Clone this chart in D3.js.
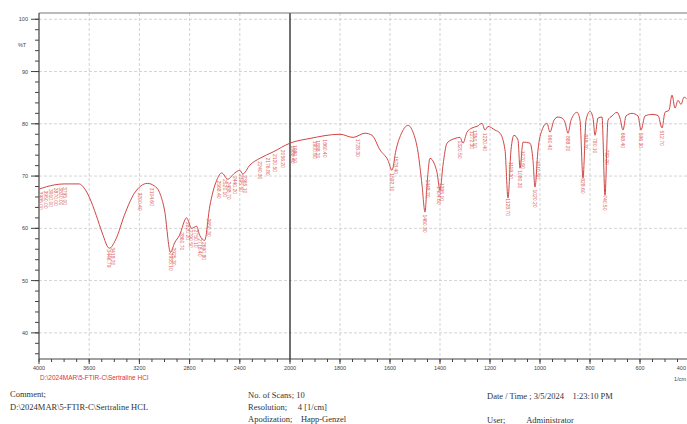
<!DOCTYPE html>
<html lang="en">
<head>
<meta charset="utf-8">
<title>FTIR Sertraline HCl</title>
<script src="https://d3js.org/d3.v7.min.js"></script>
<style>
  body { margin: 0; background: #fff; }
  svg { display: block; }
</style>
</head>
<body>
<div id="chart"></div>
<script>
// spectrum: wavenumber (1/cm) and transmittance (%T)
const wavenumbers = [4000, 3880, 3800, 3680, 3640, 3600, 3544, 3496, 3440, 3384, 3320, 3240, 3136, 3080, 3040, 3000,
  2952, 2920, 2880, 2824, 2784, 2744, 2720, 2680, 2640, 2584, 2544, 2496, 2440, 2400, 2376, 2320, 2240, 2136, 2000,
  1920, 1800, 1748, 1700, 1672, 1640, 1608, 1592, 1576, 1552, 1528, 1508, 1488, 1472, 1460, 1452, 1440, 1424, 1412,
  1400, 1388, 1372, 1340, 1320, 1308, 1292, 1272, 1252, 1232, 1220, 1208, 1180, 1160, 1140, 1128, 1116, 1104, 1088,
  1080, 1068, 1040, 1028, 1020, 1008, 992, 972, 960, 944, 928, 912, 900, 888, 876, 852, 840, 828, 816, 800, 788, 780,
  768, 752, 740, 728, 712, 692, 680, 668, 656, 632, 608, 596, 580, 552, 528, 512, 500, 484, 472, 460, 448, 436, 424, 412];
const transmittance = [67.5, 68.3, 68.5, 68.5, 67.7, 66.0, 62.5, 59.1, 56.2, 58.1, 62.5, 66.7, 68.6, 68.1, 66.9, 63.5,
  55.4, 57.2, 58.7, 62.0, 60.0, 60.4, 58.7, 57.7, 64.1, 69.2, 70.6, 69.4, 70.6, 71.1, 70.4, 72.1, 73.4, 74.6, 76.3,
  77.2, 78.0, 77.4, 78.2, 77.8, 75.0, 73.0, 71.1, 75.0, 78.4, 79.7, 78.4, 74.6, 68.3, 63.1, 68.3, 73.4, 72.5, 70.7,
  67.3, 72.1, 76.3, 77.2, 77.4, 76.3, 78.4, 79.2, 79.5, 80.1, 78.8, 79.5, 78.8, 78.2, 75.0, 65.8, 75.0, 77.8, 76.9,
  71.5, 76.5, 76.3, 73.0, 67.9, 75.0, 78.8, 80.1, 78.4, 80.7, 81.3, 81.1, 80.3, 78.2, 80.7, 82.2, 80.7, 69.6, 80.7, 82.4, 81.1, 77.8,
  81.1, 81.3, 66.3, 80.7, 81.5, 82.2, 81.1, 78.8, 81.5, 82.0, 81.5, 78.8, 81.5, 81.8, 81.6, 79.2, 82.2, 82.6, 85.5, 83.0, 84.5, 83.7, 85.1, 84.7];

// picked peaks (labels hanging under the curve)
const peakList = [3985, 3950, 3910, 3870, 3830, 3795, 3446.79, 3418.2, 3200.4, 3104.6, 2955.1, 2925.3, 2860.7, 2820.2,
  2790.5, 2750.1, 2718.4, 2690.8, 2650.3, 2568.4, 2520.1, 2488.7, 2440.2, 2395.5, 2365.1, 2240.3, 2176.8, 2120.5,
  2056.2, 1988.4, 1980.1, 1900.6, 1888.2, 1860.4, 1728.3, 1592.1, 1578.4, 1460.3, 1448.2, 1404.6, 1395.1, 1320.5,
  1272.3, 1260.1, 1220.4, 1128.7, 1118.2, 1080.3, 1070.6, 1020.2, 1010.5, 960.4, 888.2, 828.6, 818.3, 780.1, 740.5,
  732.2, 668.4, 596.3, 512.7];

const xTicks = [4000, 3600, 3200, 2800, 2400, 2000, 1800, 1600, 1400, 1200, 1000, 800, 600, 400];
const yTicks = [40, 50, 60, 70, 80, 90, 100];

const W = 687, H = 424;
const pLeft = 39, pTop = 13, pBottom = 359, pRight = 690;

const svg = d3.select("#chart").append("svg")
  .attr("width", W).attr("height", H)
  .style("font-family", "'Liberation Sans', Arial, sans-serif");

svg.append("rect").attr("width", W).attr("height", H).attr("fill", "#fff");

// scale changes at 2000 1/cm, like the instrument print-out
const x = d3.scaleLinear().domain([4000, 2000, 400]).range([pLeft, 290, pRight]);
const y = d3.scaleLinear().domain([35, 101.2]).range([pBottom, pTop]);

// grid
svg.append("g").selectAll("line").data(xTicks.filter(d => d != 4000 && d != 2000)).join("line")
  .attr("x1", d => x(d)).attr("x2", d => x(d)).attr("y1", pTop).attr("y2", pBottom)
  .attr("stroke", "#c8c8c8").attr("stroke-width", 0.8).attr("stroke-dasharray", "3,2");
svg.append("g").selectAll("line").data(yTicks).join("line")
  .attr("x1", pLeft).attr("x2", W).attr("y1", d => y(d)).attr("y2", d => y(d))
  .attr("stroke", "#c8c8c8").attr("stroke-width", 0.8).attr("stroke-dasharray", "3,2");

// dark line at 2000
svg.append("line").attr("x1", x(2000)).attr("x2", x(2000)).attr("y1", pTop).attr("y2", pBottom)
  .attr("stroke", "#333").attr("stroke-width", 1.4);

// frame top
svg.append("line").attr("x1", pLeft).attr("x2", W).attr("y1", pTop).attr("y2", pTop)
  .attr("stroke", "#777").attr("stroke-width", 1);

// y axis
const yMinor = d3.range(36, 101, 2);
const yAxis = svg.append("g").attr("transform", `translate(${pLeft},0)`);
yAxis.append("line").attr("y1", pTop).attr("y2", pBottom).attr("stroke", "#444").attr("stroke-width", 1.2);
yAxis.selectAll(".mn").data(yMinor).join("line")
  .attr("x1", -4).attr("x2", 0).attr("y1", d => y(d)).attr("y2", d => y(d))
  .attr("stroke", "#444").attr("stroke-width", 1);
yAxis.selectAll(".mj").data(yTicks).join("line")
  .attr("x1", -8).attr("x2", 0).attr("y1", d => y(d)).attr("y2", d => y(d))
  .attr("stroke", "#444").attr("stroke-width", 1);
yAxis.selectAll("text").data(yTicks).join("text")
  .attr("x", -11).attr("y", d => y(d) + 2).attr("text-anchor", "end")
  .attr("font-size", 5.5).attr("fill", "#444").text(d => d);
svg.append("text").attr("x", 22).attr("y", 47).attr("text-anchor", "middle")
  .attr("font-size", 5.5).attr("fill", "#444").text("%T");

// x axis
const xMinor = d3.range(4000, 2000, -100).concat(d3.range(2000, 399, -50));
const xAxis = svg.append("g").attr("transform", `translate(0,${pBottom})`);
xAxis.append("line").attr("x1", pLeft).attr("x2", W).attr("stroke", "#444").attr("stroke-width", 1.2);
xAxis.selectAll(".mn").data(xMinor).join("line")
  .attr("x1", d => x(d)).attr("x2", d => x(d)).attr("y1", 0).attr("y2", 3)
  .attr("stroke", "#444").attr("stroke-width", 1);
xAxis.selectAll(".mj").data(xTicks).join("line")
  .attr("x1", d => x(d)).attr("x2", d => x(d)).attr("y1", 0).attr("y2", 5)
  .attr("stroke", "#444").attr("stroke-width", 1);
xAxis.selectAll("text").data(xTicks).join("text")
  .attr("x", d => Math.min(x(d), W - 1)).attr("y", 11)
  .attr("text-anchor", d => x(d) > W - 6 ? "end" : "middle")
  .attr("font-size", 5.5).attr("fill", "#444").text(d => d);
svg.append("text").attr("x", 686).attr("y", 381).attr("text-anchor", "end")
  .attr("font-size", 5.5).attr("fill", "#444").text("1/cm");

// spectrum
const spec = wavenumbers.map((w, i) => ({ w: w, t: transmittance[i] }));
const line = d3.line().x(d => x(d.w)).y(d => y(d.t)).curve(d3.curveMonotoneX);
svg.append("path").datum(spec).attr("d", line)
  .attr("fill", "none").attr("stroke", "#d04646").attr("stroke-width", 1);

// peak labels, placed at the curve value under each picked peak
const interp = w => {
  for (let i = 1; i < spec.length; i++) {
    if (spec[i].w <= w) {
      const a = spec[i - 1], b = spec[i];
      return a.t + (b.t - a.t) * (a.w - w) / (a.w - b.w);
    }
  }
  return spec[spec.length - 1].t;
};
svg.append("g").selectAll("text").data(peakList).join("text")
  .attr("transform", d => `translate(${x(d) - 1.5},${y(interp(d)) + 3}) rotate(90)`)
  .attr("font-size", 5).attr("fill", "#dc6464")
  .text(d => d.toFixed(2));

// file name under the axis
svg.append("text").attr("x", 40).attr("y", 380)
  .attr("font-size", 6.5).attr("fill", "#d33")
  .text("D:\\2024MAR\\5-FTIR-C\\Sertraline HCl");

// footer info
const foot = svg.append("g").attr("font-family", "'Liberation Serif', 'Times New Roman', serif")
  .attr("font-size", 8.5).attr("fill", "#333");
foot.append("text").attr("x", 10).attr("y", 397).text("Comment;");
foot.append("text").attr("x", 10).attr("y", 410).text("D:\\2024MAR\\5-FTIR-C\\Sertraline HCL");
foot.append("text").attr("x", 248).attr("y", 398).text("No. of Scans;  10");
foot.append("text").attr("x", 248).attr("y", 410).attr("xml:space", "preserve").text("Resolution;     4 [1/cm]");
foot.append("text").attr("x", 248).attr("y", 422).attr("xml:space", "preserve").text("Apodization;    Happ-Genzel");
foot.append("text").attr("x", 487).attr("y", 399).attr("xml:space", "preserve").text("Date / Time ; 3/5/2024    1:23:10 PM");
foot.append("text").attr("x", 487).attr("y", 423).attr("xml:space", "preserve").text("User;          Administrator");
</script>
</body>
</html>
